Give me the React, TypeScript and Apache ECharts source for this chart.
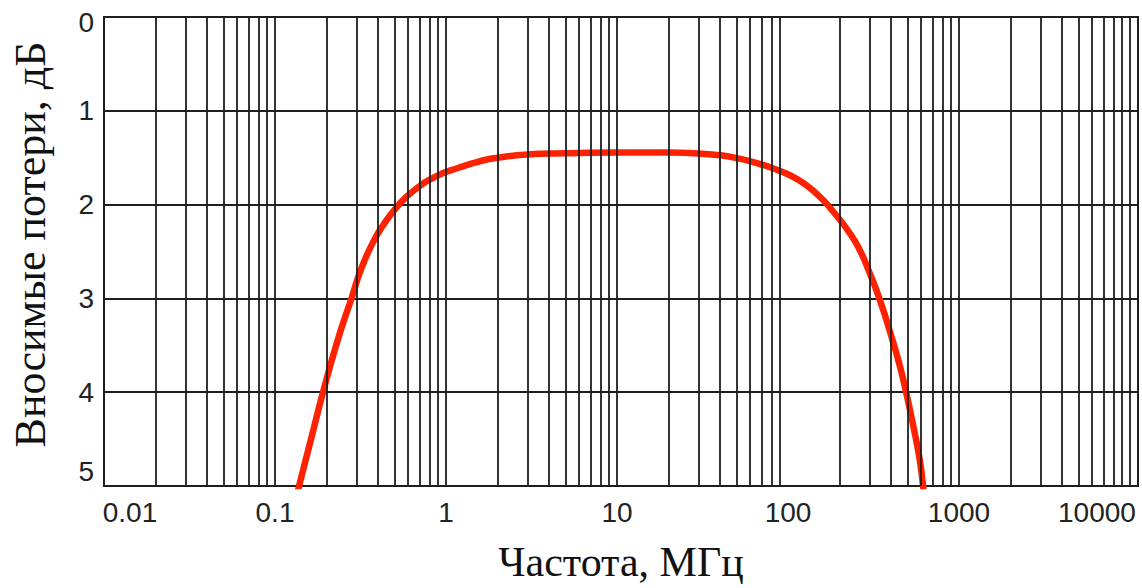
import React, { useEffect, useRef } from "react";
import * as echarts from "echarts";

// Frequency (MHz) of the insertion-loss curve and the loss (dB)
const FREQ_MHZ = [
  0.134, 0.1396, 0.163, 0.191, 0.234, 0.28, 0.32, 0.375, 0.429, 0.514, 0.638, 0.874, 1.197, 1.6, 2.0, 3.0, 5.0, 10,
  20, 30, 40, 52, 68, 89, 116, 152, 182, 228, 261, 299, 342, 391, 448, 490, 536, 587, 614, 624,
];
const LOSS_DB = [
  5.1, 4.97, 4.49, 4.0, 3.43, 3.0, 2.68, 2.4, 2.22, 2.03, 1.86, 1.7, 1.605, 1.535, 1.5, 1.465, 1.452, 1.445,
  1.445, 1.456, 1.474, 1.51, 1.565, 1.64, 1.74, 1.91, 2.066, 2.295, 2.473, 2.72, 3.0, 3.33, 3.7, 3.996, 4.33,
  4.7, 4.97, 5.1,
];

// Axis tick labels
const X_TICK_LABELS = ["0.01", "0.1", "1", "10", "100", "1000", "10000"];
const X_DECADES = [0.01, 0.1, 1, 10, 100, 1000, 10000];
const X_MULTIPLIERS = [1, 2, 3, 4, 5, 6, 7, 8, 9];
const X_MISSING_LINES = [100]; // no grid line is drawn at 100 in the reference
const X_MIN = 0.01;
const X_MAX = 11140;
const Y_TICKS = [0, 1, 2, 3, 4, 5];

const X_TITLE = "Частота, МГц";
const Y_TITLE = "Вносимые потери, дБ";

const LINE_COLOR = "#1e1e1e";
const LABEL_FONT = "'Liberation Sans', Arial, Helvetica, sans-serif";
const TITLE_FONT = "'Liberation Serif', 'Times New Roman', serif";

export default function App() {
  const ref = useRef<HTMLDivElement>(null);

  useEffect(() => {
    if (!ref.current) return;
    const chart = echarts.init(ref.current, undefined, { renderer: "svg" });

    const gridValues: number[] = [];
    X_DECADES.forEach((d) => {
      X_MULTIPLIERS.forEach((m) => {
        const v = parseFloat((d * m).toPrecision(6));
        if (v <= X_MIN || v > X_MAX) return;
        if (X_MISSING_LINES.includes(v)) return;
        gridValues.push(v);
      });
    });

    const curve = FREQ_MHZ.map((f, i) => [f, LOSS_DB[i]]);

    chart.setOption({
      animation: false,
      backgroundColor: "#ffffff",
      grid: {
        left: 104,
        top: 17,
        width: 1034,
        height: 471,
        show: true,
        borderColor: LINE_COLOR,
        borderWidth: 2,
        backgroundColor: "transparent",
      },
      xAxis: {
        type: "log",
        logBase: 10,
        min: X_MIN,
        max: X_MAX,
        name: X_TITLE,
        nameLocation: "middle",
        nameGap: 55,
        nameTextStyle: {
          fontFamily: TITLE_FONT,
          fontSize: 42,
          color: "#111",
        },
        axisLine: { show: true, lineStyle: { color: LINE_COLOR, width: 2 } },
        axisTick: { show: false },
        splitLine: { show: false },
        axisLabel: {
          margin: 12,
          fontFamily: LABEL_FONT,
          fontSize: 28,
          color: "#222",
          formatter: (v: number) => {
            const e = Math.log10(v);
            const r = Math.round(e);
            if (Math.abs(e - r) > 0.01) return "";
            const idx = r + 2;
            if (idx < 0 || idx >= X_TICK_LABELS.length) return "";
            const lab = X_TICK_LABELS[idx];
            if (idx === 0) return "{first|" + lab + "}";
            if (idx === X_TICK_LABELS.length - 1) return "{last|" + lab + "}";
            return lab;
          },
          rich: {
            first: { fontFamily: LABEL_FONT, fontSize: 28, color: "#222", padding: [0, 0, 0, 52] },
            last: { fontFamily: LABEL_FONT, fontSize: 28, color: "#222", padding: [0, 66, 0, 0] },
          },
        },
      },
      yAxis: {
        type: "value",
        inverse: true,
        min: Y_TICKS[0],
        max: Y_TICKS[Y_TICKS.length - 1],
        interval: 1,
        name: Y_TITLE,
        nameLocation: "middle",
        nameGap: 52,
        nameTextStyle: {
          fontFamily: TITLE_FONT,
          fontSize: 44,
          color: "#111",
          padding: [0, 0, 0, 14],
        },
        axisLine: { show: true, lineStyle: { color: LINE_COLOR, width: 2 } },
        axisTick: { show: false },
        splitLine: { show: true, lineStyle: { color: LINE_COLOR, width: 1.8 } },
        axisLabel: {
          margin: 10,
          fontFamily: LABEL_FONT,
          fontSize: 28,
          color: "#222",
          formatter: (v: number) => {
            if (v === Y_TICKS[0]) return "{top|" + v + "}";
            if (v === Y_TICKS[Y_TICKS.length - 1]) return "{bot|" + v + "}";
            return String(v);
          },
          rich: {
            top: { fontFamily: LABEL_FONT, fontSize: 28, color: "#222", padding: [10, 0, 0, 0] },
            bot: { fontFamily: LABEL_FONT, fontSize: 28, color: "#222", padding: [0, 0, 30, 0] },
          },
        },
      },
      series: [
        {
          name: "grid",
          type: "line",
          data: [],
          z: 1,
          silent: true,
          markLine: {
            silent: true,
            symbol: "none",
            label: { show: false },
            lineStyle: { color: LINE_COLOR, width: 1.8, type: "solid" },
            emphasis: { disabled: true },
            data: gridValues.map((v) => ({ xAxis: v })),
          },
        },
        {
          name: "loss",
          type: "line",
          data: curve,
          z: 3,
          smooth: 0.55,
          showSymbol: false,
          clip: true,
          lineStyle: { color: "#ff2200", width: 6.5, cap: "butt", join: "round" },
        },
      ],
    });

    return () => chart.dispose();
  }, []);

  return (
    <div
      ref={ref}
      style={{ position: "fixed", left: 0, top: 0, width: 1142, height: 588, background: "#fff" }}
    />
  );
}
